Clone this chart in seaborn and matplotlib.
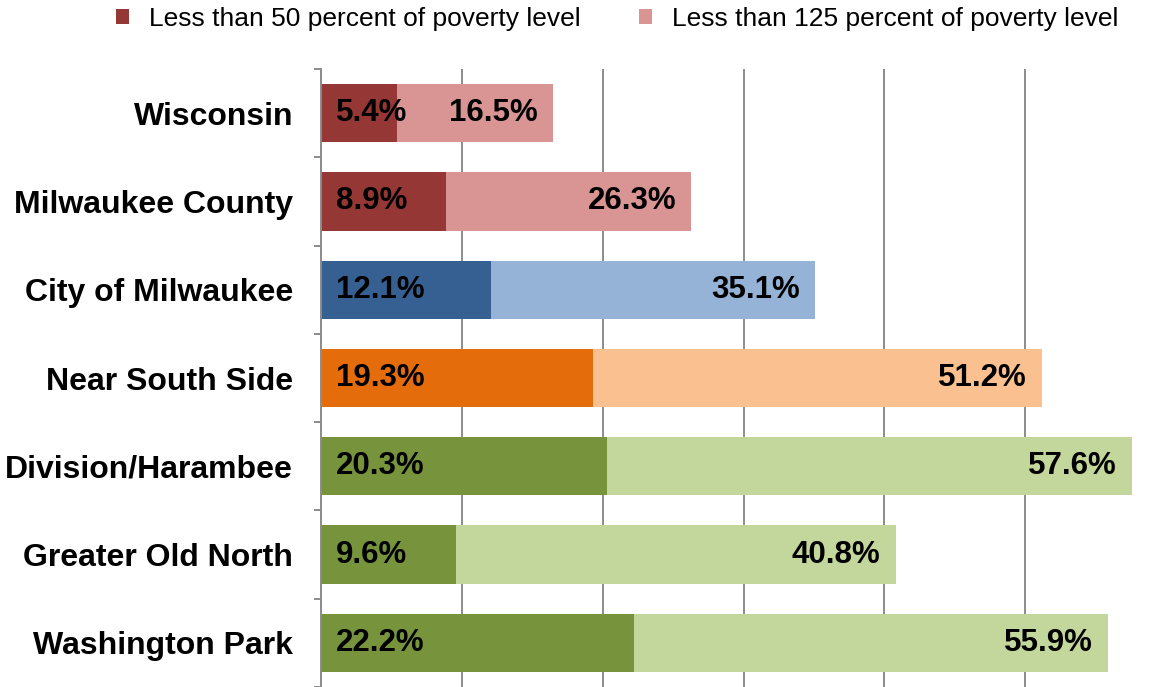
import matplotlib
matplotlib.use("Agg")
import matplotlib.pyplot as plt
from matplotlib.patches import Patch
from matplotlib.ticker import FixedLocator
import seaborn as sns
import pandas as pd
import numpy as np

categories = ["Wisconsin", "Milwaukee County", "City of Milwaukee", "Near South Side",
              "Division/Harambee", "Greater Old North", "Washington Park"]
below_50 = [5.4, 8.9, 12.1, 19.3, 20.3, 9.6, 22.2]
below_125 = [16.5, 26.3, 35.1, 51.2, 57.6, 40.8, 55.9]
dark_colors = ["#953735", "#953735", "#366092", "#E46C0A", "#77933C", "#77933C", "#77933C"]
light_colors = ["#D99594", "#D99594", "#95B3D7", "#FAC090", "#C3D69B", "#C3D69B", "#C3D69B"]
legend_labels = ["Less than 50 percent of poverty level", "Less than 125 percent of poverty level"]

sns.set_theme(style="white")
plt.rcParams["font.family"] = ["Liberation Sans", "DejaVu Sans"]

df = pd.DataFrame({"cat": categories, "p50": below_50, "p125": below_125})

W, H = 1159, 687
fig = plt.figure(figsize=(W / 100, H / 100), dpi=100)
ax = fig.add_axes([321 / W, 0, 845 / W, 618 / H])

sns.barplot(data=df, x="p125", y="cat", hue="cat", palette=light_colors, legend=False,
            width=0.66, ax=ax, saturation=1, order=categories, hue_order=categories)
sns.barplot(data=df, x="p50", y="cat", hue="cat", palette=dark_colors, legend=False,
            width=0.66, ax=ax, saturation=1, order=categories, hue_order=categories)
for p in ax.patches:
    p.set_edgecolor("none")
    p.set_linewidth(0)

ax.set_xlim(0, 60)
ax.set_ylim(len(categories) - 0.5, -0.5)
ax.set_xlabel("")
ax.set_ylabel("")
ax.set_xticks([0, 10, 20, 30, 40, 50, 60])
ax.set_xticklabels([])
ax.tick_params(axis="x", length=0)
ax.grid(axis="x", color="#8C8C8C", linewidth=1.4)
ax.set_axisbelow(True)
for s in ["top", "right", "bottom"]:
    ax.spines[s].set_visible(False)
ax.spines["left"].set_color("#8C8C8C")
ax.spines["left"].set_linewidth(1.4)

ax.yaxis.set_minor_locator(FixedLocator(np.arange(-0.5, len(categories), 1.0)))
ax.tick_params(axis="y", which="minor", length=5, width=1.4, color="#8C8C8C", left=True)
ax.tick_params(axis="y", which="major", length=0, pad=20)
for lbl in ax.get_yticklabels():
    lbl.set_fontweight("bold")
    lbl.set_fontsize(23)
    lbl.set_color("black")

for i, (a, b) in enumerate(zip(below_50, below_125)):
    ax.annotate(f"{a:.1f}%", xy=(0, i), xytext=(11, 0), textcoords="offset points",
                ha="left", va="center", fontsize=22.5, fontweight="bold", color="black")
    ax.annotate(f"{b:.1f}%", xy=(b, i), xytext=(-11, 0), textcoords="offset points",
                ha="right", va="center", fontsize=22.5, fontweight="bold", color="black")

handles = [Patch(facecolor="#953735", edgecolor="none"), Patch(facecolor="#D99594", edgecolor="none")]
fig.legend(handles, legend_labels, loc="center", bbox_to_anchor=(617 / W, 1 - 19 / H),
           ncol=2, frameon=False, fontsize=19, handlelength=0.5, handleheight=0.5,
           handletextpad=0.75, columnspacing=2.2, borderpad=0, borderaxespad=0,
           labelcolor="black")

fig.savefig("out.png", dpi=100)
